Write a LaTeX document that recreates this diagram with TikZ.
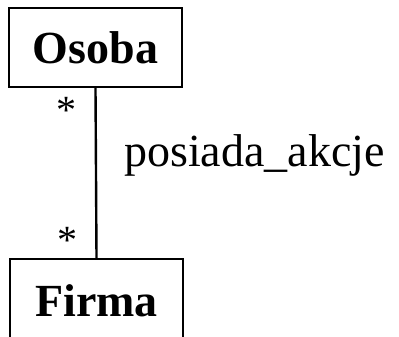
\documentclass[tikz,border=0pt]{standalone}
\usepackage{fontspec}
\setmainfont{Liberation Serif}
\usetikzlibrary{positioning}

\tikzset{
    klasa/.style={draw, line width=2.2pt, minimum width=173pt, minimum height=79pt, inner sep=0pt, font=\fontsize{46}{50}\selectfont\bfseries},
    krotnosc/.style={inner sep=0pt, font=\fontsize{40}{44}\selectfont},
    nazwa/.style={inner sep=0pt, font=\fontsize{46}{50}\selectfont}
}

\begin{document}
\begin{tikzpicture}[x=1pt,y=1pt]

\clip (0,0) rectangle (399,-337);

\node[klasa] (osoba) at (95.5,-47.5) {Osoba};
\node[klasa, minimum height=84pt] (firma) at (96.5,-301) {Firma};

\draw[line width=2.4pt] (osoba.south) --
    node[krotnosc, pos=0, anchor=base east, xshift=-18pt, yshift=-35.5pt] (gora) {*}
    node[nazwa, midway, anchor=base west, xshift=27pt, yshift=6.5pt] (asocjacja) {posiada\_akcje}
    node[krotnosc, pos=1, anchor=base east, xshift=-18pt, yshift=4.5pt] (dol) {*}
    (firma.north);

\end{tikzpicture}
\end{document}
